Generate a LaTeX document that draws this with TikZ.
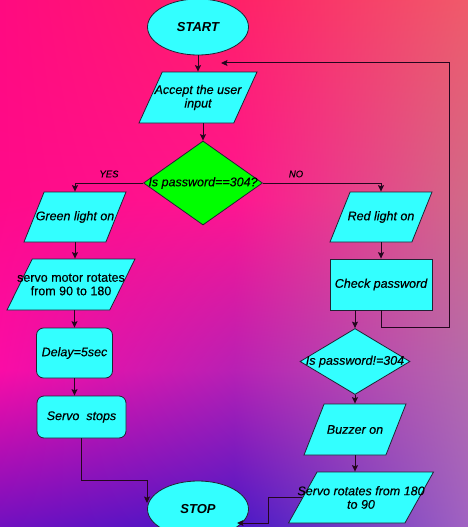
\documentclass[tikz,border=0pt]{standalone}
\usepackage{fontspec}
\setmainfont{Liberation Sans}[UprightFeatures={FakeBold=0.3},ItalicFeatures={FakeBold=0.3}]
\usetikzlibrary{shapes.geometric,arrows.meta,shadings}
\definecolor{cy}{HTML}{33FFFF}
\definecolor{gr}{HTML}{00FF00}
\definecolor{bd}{HTML}{222233}
\definecolor{ln}{HTML}{24061E}
\definecolor{bAa}{HTML}{FF0A80}\definecolor{bAb}{HTML}{FF2068}\definecolor{bAc}{HTML}{F05A6A}
\definecolor{bBa}{HTML}{FF0A8A}\definecolor{bBb}{HTML}{FF1590}\definecolor{bBc}{HTML}{D06A88}
\definecolor{bCa}{HTML}{FA0CA6}\definecolor{bCb}{HTML}{B820B4}\definecolor{bCc}{HTML}{B46AAC}
\definecolor{bDa}{HTML}{7010C0}\definecolor{bDb}{HTML}{4816C6}\definecolor{bDc}{HTML}{A062C2}
\newcommand\bgpatch[8]{\shade[upper left=#5, upper right=#6, lower left=#7, lower right=#8] (#1,#2) rectangle (#3,#4);}
\begin{document}
\begin{tikzpicture}[x=1pt,y=-1pt,
  every node/.style={font=\fontsize{12.5}{13.5}\selectfont\itshape, align=center, inner sep=0pt},
  term/.style={ellipse, draw=bd, fill=cy, line width=0.8pt, minimum width=101pt, minimum height=56pt, font=\fontsize{13}{15}\selectfont\bfseries\itshape},
  io/.style={trapezium, trapezium left angle=72, trapezium right angle=108, trapezium stretches=true, draw=bd, fill=cy, line width=0.8pt, inner sep=3pt},
  proc/.style={rectangle, draw=bd, fill=cy, line width=0.8pt},
  rproc/.style={proc, rounded corners=7pt},
  dec/.style={diamond, draw=bd, line width=0.8pt, inner sep=3pt},
  lbl/.style={font=\fontsize{9.5}{11}\selectfont\itshape},
  conn/.style={draw=ln, line width=1pt},
  arr/.style={conn, -{Stealth[length=6.5pt,width=6pt,inset=1.2pt]}}
]
\useasboundingbox (0,0) rectangle (468,527);
\clip (0,0) rectangle (468,527);
% background
\bgpatch{0}{0}{234.6}{200.6}{bAa}{bAb}{bBa}{bBb}
\bgpatch{234}{0}{468}{200.6}{bAb}{bAc}{bBb}{bBc}
\bgpatch{0}{200}{234.6}{370.6}{bBa}{bBb}{bCa}{bCb}
\bgpatch{234}{200}{468}{370.6}{bBb}{bBc}{bCb}{bCc}
\bgpatch{0}{370}{234.6}{527}{bCa}{bCb}{bDa}{bDb}
\bgpatch{234}{370}{468}{527}{bCb}{bCc}{bDb}{bDc}

% nodes
\node[term] (start) at (198,27) {START};
\node[io, minimum width=118pt, minimum height=51pt] (acc) at (198,97.5) {};
\node at (acc.center) {Accept the user\\input};
\node[dec, fill=gr, minimum width=119pt, minimum height=84pt] (d1) at (203,183) {};
\node at (d1.center) {Is password==304?};
\node[lbl] (yes) at (109,174) {YES};
\node[lbl] (no) at (296,174) {NO};

\node[io, minimum width=102pt, minimum height=50pt] (green) at (75,217) {};
\node at (green.center) {Green light on};
\node[io, minimum width=128pt, minimum height=51pt] (servo) at (71,284.5) {};
\node[font=\fontsize{12.5}{13.5}\selectfont\upshape] at (servo.center) {servo motor rotates\\from 90 to 180};
\node[rproc, minimum width=76pt, minimum height=50pt] (delay) at (74.5,353) {Delay=5sec};
\node[rproc, minimum width=89pt, minimum height=42pt] (stops) at (81.5,417) {Servo\ \ stops};
\node[term] (stop) at (198,509) {STOP};

\node[io, minimum width=102pt, minimum height=50pt] (red) at (381,217) {};
\node at (red.center) {Red light on};
\node[proc, minimum width=102pt, minimum height=51pt] (check) at (381,284.5) {Check password};
\node[dec, fill=cy, minimum width=110pt, minimum height=66pt] (d2) at (355,361.5) {};
\node at (d2.center) {Is password!=304};
\node[io, minimum width=102pt, minimum height=51pt] (buzz) at (355,429.5) {};
\node at (buzz.center) {Buzzer on};
\node[io, minimum width=145pt, minimum height=51pt] (srot) at (361,497.5) {};
\node at (srot.center) {Servo rotates from 180\\to 90};

\coordinate (j1) at (147,480);
\coordinate (j2) at (147,503);
\coordinate (l1) at (449,327);
\coordinate (l2) at (449,63);
\coordinate (l3) at (221,63);
\coordinate (k2) at (268,523);
\coordinate (k3) at (237,523);

% connectors
\draw[arr] (start.south) -- (acc.center |- acc.north);
\draw[arr] (d1.north |- acc.south) -- (d1.north);
\draw[arr] (d1.west) -| (green.center |- green.north);
\draw[arr] (green.center |- green.south) -- (green.center |- servo.north);
\draw[arr] (delay.center |- servo.south) -- (delay.north);
\draw[arr] (delay.south) -- (delay.south |- stops.north);
\draw[arr] (stops.south) |- (j1) -- (j2);
\draw[arr] (d1.east) -| (red.center |- red.north);
\draw[arr] (red.center |- red.south) -- (check.north);
\draw[arr] (check.south) |- (l1) -- (l2) -- (l3);
\draw[arr] (d2.north |- check.south) -- (d2.north);
\draw[arr] (d2.south) -- (buzz.center |- buzz.north);
\draw[arr] (buzz.center |- buzz.south) -- (buzz.center |- srot.north);
\draw[arr] (srot.left side) -| (k2) -- (k3);
\end{tikzpicture}
\end{document}
